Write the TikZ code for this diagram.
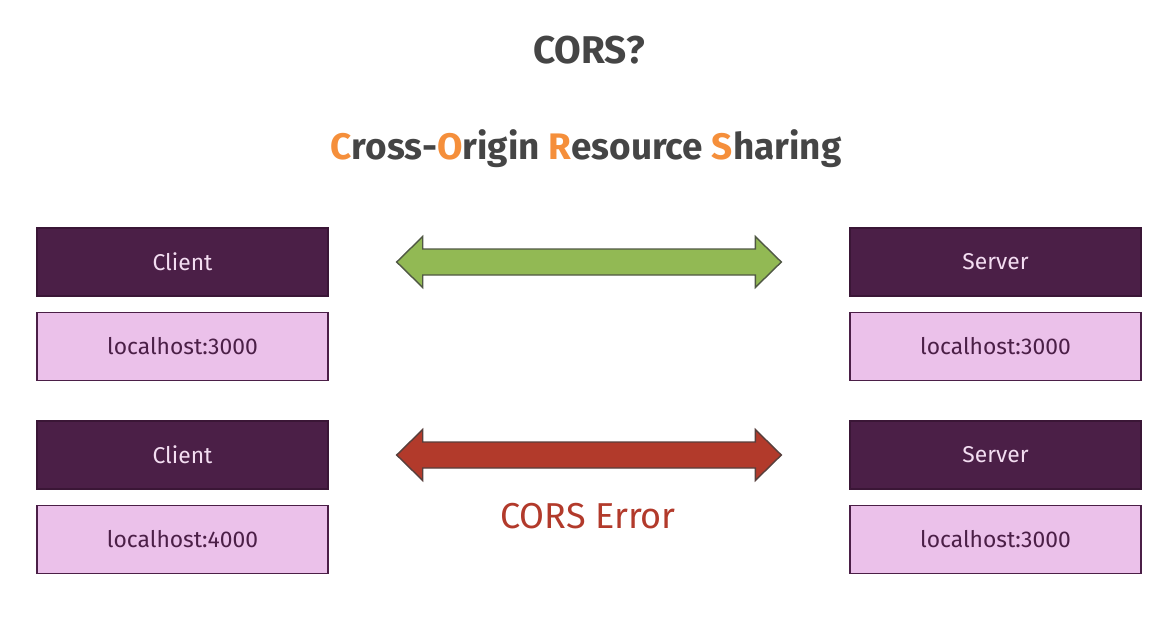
\documentclass[tikz,border=0pt]{standalone}
\usepackage{fontspec}
\setmainfont{Fira Sans}
\usepackage{xcolor}
\usepackage{tikz}
\usetikzlibrary{positioning,calc}
\definecolor{plum}{HTML}{4B1F47}
\definecolor{plumline}{HTML}{3A1636}
\definecolor{pinkfill}{HTML}{EBC1EA}
\definecolor{pinktext}{HTML}{F3DDF1}
\definecolor{okgreen}{HTML}{92B954}
\definecolor{errred}{HTML}{B23A2B}
\definecolor{titlegray}{HTML}{454545}
\definecolor{letterorange}{HTML}{F58F3B}
\newcommand{\hl}[1]{\textcolor{letterorange}{#1}}
% block arrow with two heads, from left tip #2 to right tip #3
\newcommand{\twoway}[3]{%
  \draw[#1] (#2) -- ++(0.52,0.51) -- ++(0,-0.25) -- ($(#3)+(-0.52,0.26)$) -- ++(0,0.25)
  -- (#3) -- ++(-0.52,-0.51) -- ++(0,0.25) -- ($(#2)+(0.52,-0.26)$) -- ++(0,-0.25) -- cycle;}

\begin{document}
\begin{tikzpicture}[thick,
  host/.style={rectangle,minimum width=5.82cm,minimum height=1.36cm,inner sep=0pt,draw=plumline,fill=plum,text=pinktext,font=\fontsize{13}{15}\selectfont},
  port/.style={host,fill=pinkfill,draw=plum,text=plum},
  wide/.style={fill=#1,draw=#1!25!black!80,line join=miter}]

	\useasboundingbox (0,0) rectangle (23.24,-12.66);

	% The headings
	\node [text=titlegray,font=\fontsize{22}{26}\selectfont\bfseries] at (11.78,-1.0) (title) {CORS?};
	\node [text=titlegray,font=\fontsize{21}{25}\selectfont\bfseries] at (11.72,-2.98) (sub)
	{\hl{C}ross-\hl{O}rigin \hl{R}esource \hl{S}haring};

	% The boxes, same origin
	\node [host] at (3.65,-5.24) (c1) {Client};
	\node [port] at (3.65,-6.93) (c1h) {localhost:3000};
	\node [host] at (19.91,-5.24) (s1) {Server};
	\node [port] at (19.91,-6.93) (s1h) {localhost:3000};

	% The boxes, other origin
	\node [host] at (3.65,-9.10) (c2) {Client};
	\node [port] at (3.65,-10.79) (c2h) {localhost:4000};
	\node [host] at (19.91,-9.10) (s2) {Server};
	\node [port] at (19.91,-10.79) (s2h) {localhost:3000};

	% Arrows
	\coordinate (g1) at ($(c1.east)+(1.36,0)$);
	\coordinate (g2) at ($(s1.west)-(1.36,0)$);
	\coordinate (r1) at ($(c2.east)+(1.36,0)$);
	\coordinate (r2) at ($(s2.west)-(1.36,0)$);
	\twoway{wide=okgreen}{g1}{g2}
	\twoway{wide=errred}{r1}{r2}

	\node [text=errred,font=\fontsize{20.5}{24}\selectfont] at (11.76,-10.32) (err) {CORS Error};

\end{tikzpicture}
\end{document}
